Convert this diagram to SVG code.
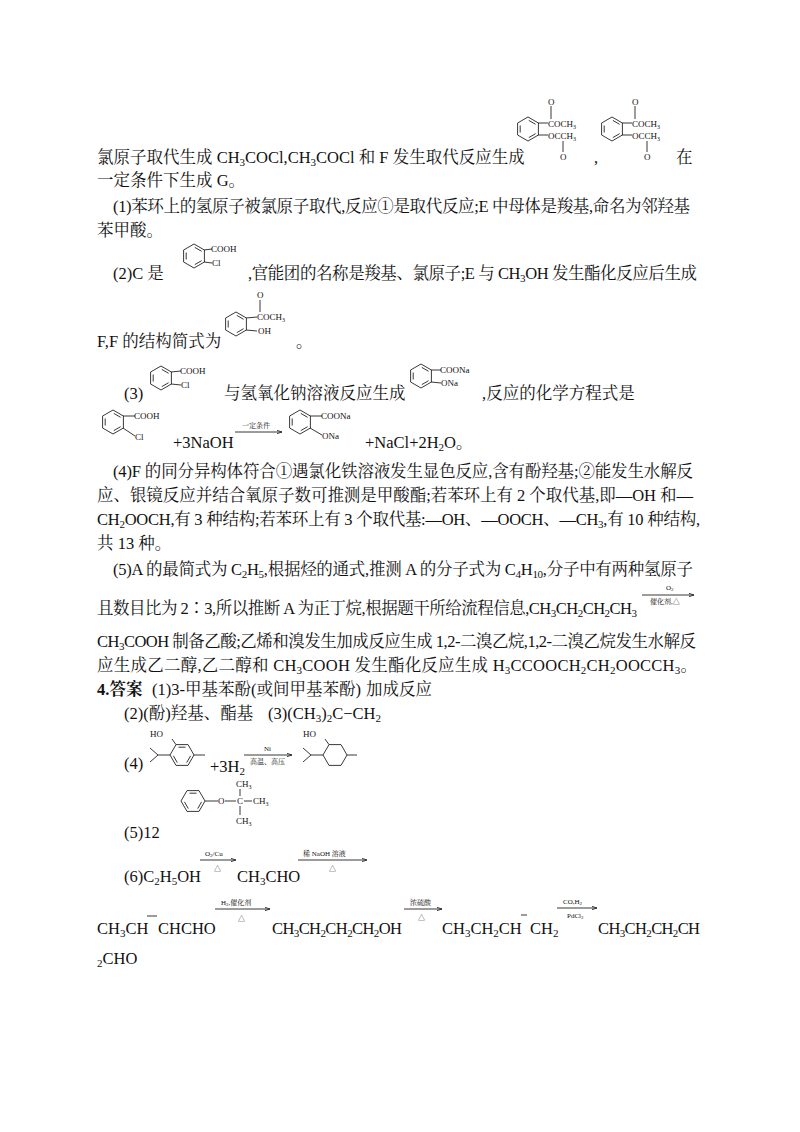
<svg xmlns="http://www.w3.org/2000/svg" width="800" height="1132" viewBox="0 0 800 1132">
<style>
text{font-family:"Liberation Serif","Noto Serif CJK SC","Noto Sans CJK SC",serif;fill:#111}
.t{font-size:16.5px}
.s{font-size:9px}
.m{font-size:7px}
line,path,polyline{stroke:#222;stroke-width:0.9;fill:none}
</style>
<defs>
<marker id="ah" markerWidth="6" markerHeight="4" refX="6" refY="2" orient="auto"><path d="M0,0L6,2L0,4z" fill="#222" stroke="none"/></marker>
<g id="bz"><path d="M0,-12L10.4,-6L10.4,6L0,12L-10.4,6L-10.4,-6Z"/><path d="M-7.8,-3.5L-7.8,3.5M0.8,-8.6L7.6,-4.7M0.8,8.6L7.6,4.7"/></g>
<g id="bzf"><path d="M-12,0L-6,-10.4L6,-10.4L12,0L6,10.4L-6,10.4Z"/><path d="M-3.5,-7.8L3.5,-7.8M-8.6,0.8L-4.7,7.6M8.6,0.8L4.7,7.6"/></g>
<g id="cyf"><path d="M-12,0L-6,-10.4L6,-10.4L12,0L6,10.4L-6,10.4Z"/></g>
</defs>
<rect width="800" height="1132" fill="#fff"/>

<g id="text">
<text class="t" x="97" y="163">氯原子取代生成 CH<tspan font-size="11" dy="3">3</tspan><tspan dy="-3">COCl,CH</tspan><tspan font-size="11" dy="3">3</tspan><tspan dy="-3">COCl 和 F 发生取代反应生成</tspan></text>
<text class="t" x="594" y="163">,</text>
<text class="t" x="676" y="163">在</text>
<text class="t" x="97" y="186">一定条件下生成 G。</text>
<text class="t" x="113" y="212" textLength="577" lengthAdjust="spacing">(1)苯环上的氢原子被氯原子取代,反应①是取代反应;E 中母体是羧基,命名为邻羟基</text>
<text class="t" x="97" y="236">苯甲酸。</text>
<text class="t" x="113" y="279">(2)C 是</text>
<text class="t" x="248" y="279" textLength="449" lengthAdjust="spacing">,官能团的名称是羧基、氯原子;E 与 CH<tspan font-size="11" dy="3">3</tspan><tspan dy="-3">OH 发生酯化反应后生成</tspan></text>
<text class="t" x="97" y="347">F,F 的结构简式为</text>
<text class="t" x="296" y="347">。</text>
<text class="t" x="124" y="399">(3)</text>
<text class="t" x="224" y="399">与氢氧化钠溶液反应生成</text>
<text class="t" x="482" y="399">,反应的化学方程式是</text>
<text class="t" x="173" y="448">+3NaOH</text>
<text class="t" x="365" y="448">+NaCl+2H<tspan font-size="11" dy="3">2</tspan><tspan dy="-3">O。</tspan></text>
<text class="t" x="113" y="477" textLength="580" lengthAdjust="spacing">(4)F 的同分异构体符合①遇氯化铁溶液发生显色反应,含有酚羟基;②能发生水解反</text>
<text class="t" x="97" y="501" textLength="596" lengthAdjust="spacing">应、银镜反应并结合氧原子数可推测是甲酸酯;若苯环上有 2 个取代基,即—OH 和—</text>
<text class="t" x="97" y="525" textLength="603" lengthAdjust="spacing">CH<tspan font-size="11" dy="3">2</tspan><tspan dy="-3">OOCH,有 3 种结构;若苯环上有 3 个取代基:—OH、—OOCH、—CH</tspan><tspan font-size="11" dy="3">3</tspan><tspan dy="-3">,有 10 种结构,</tspan></text>
<text class="t" x="97" y="549">共 13 种。</text>
<text class="t" x="113" y="575" textLength="580" lengthAdjust="spacing">(5)A 的最简式为 C<tspan font-size="11" dy="3">2</tspan><tspan dy="-3">H</tspan><tspan font-size="11" dy="3">5</tspan><tspan dy="-3">,根据烃的通式,推测 A 的分子式为 C</tspan><tspan font-size="11" dy="3">4</tspan><tspan dy="-3">H</tspan><tspan font-size="11" dy="3">10</tspan><tspan dy="-3">,分子中有两种氢原子</tspan></text>
<text class="t" x="97" y="614" textLength="540" lengthAdjust="spacing">且数目比为 2∶3,所以推断 A 为正丁烷,根据题干所给流程信息,CH<tspan font-size="11" dy="3">3</tspan><tspan dy="-3">CH</tspan><tspan font-size="11" dy="3">2</tspan><tspan dy="-3">CH</tspan><tspan font-size="11" dy="3">2</tspan><tspan dy="-3">CH</tspan><tspan font-size="11" dy="3">3</tspan></text>
<text class="t" x="97" y="647" textLength="599" lengthAdjust="spacing">CH<tspan font-size="11" dy="3">3</tspan><tspan dy="-3">COOH 制备乙酸;乙烯和溴发生加成反应生成 1,2-二溴乙烷,1,2-二溴乙烷发生水解反</tspan></text>
<text class="t" x="97" y="671" textLength="600" lengthAdjust="spacing">应生成乙二醇,乙二醇和 CH<tspan font-size="11" dy="3">3</tspan><tspan dy="-3">COOH 发生酯化反应生成 H</tspan><tspan font-size="11" dy="3">3</tspan><tspan dy="-3">CCOOCH</tspan><tspan font-size="11" dy="3">2</tspan><tspan dy="-3">CH</tspan><tspan font-size="11" dy="3">2</tspan><tspan dy="-3">OOCCH</tspan><tspan font-size="11" dy="3">3</tspan><tspan dy="-3">。</tspan></text>
<text class="t" x="97" y="695"><tspan font-weight="bold">4.答案</tspan><tspan x="152">(1)3-甲基苯酚(或间甲基苯酚)</tspan><tspan x="366">加成反应</tspan></text>
<text class="t" x="124" y="719">(2)(酚)羟基、酯基<tspan x="268">(3)(CH</tspan><tspan font-size="11" dy="3">3</tspan><tspan dy="-3">)</tspan><tspan font-size="11" dy="3">2</tspan><tspan dy="-3">C−CH</tspan><tspan font-size="11" dy="3">2</tspan></text>
<text class="t" x="124" y="769">(4)</text>
<text class="t" x="210" y="772">+3H<tspan font-size="11" dy="3">2</tspan></text>
<text class="t" x="124" y="838">(5)12</text>
<text class="t" x="124" y="882">(6)C<tspan font-size="11" dy="3">2</tspan><tspan dy="-3">H</tspan><tspan font-size="11" dy="3">5</tspan><tspan dy="-3">OH</tspan></text>
<text class="t" x="237" y="882">CH<tspan font-size="11" dy="3">3</tspan><tspan dy="-3">CHO</tspan></text>
<text class="t" x="97" y="934">CH<tspan font-size="11" dy="3">3</tspan><tspan dy="-3">CH</tspan></text>
<text class="t" x="158" y="934">CHCHO</text>
<text class="t" x="272" y="934" textLength="130" lengthAdjust="spacing">CH<tspan font-size="11" dy="3">3</tspan><tspan dy="-3">CH</tspan><tspan font-size="11" dy="3">2</tspan><tspan dy="-3">CH</tspan><tspan font-size="11" dy="3">2</tspan><tspan dy="-3">CH</tspan><tspan font-size="11" dy="3">2</tspan><tspan dy="-3">OH</tspan></text>
<text class="t" x="442" y="934">CH<tspan font-size="11" dy="3">3</tspan><tspan dy="-3">CH</tspan><tspan font-size="11" dy="3">2</tspan><tspan dy="-3">CH</tspan></text>
<text class="t" x="530" y="934">CH<tspan font-size="11" dy="3">2</tspan></text>
<text class="t" x="598" y="934" textLength="102" lengthAdjust="spacing">CH<tspan font-size="11" dy="3">3</tspan><tspan dy="-3">CH</tspan><tspan font-size="11" dy="3">2</tspan><tspan dy="-3">CH</tspan><tspan font-size="11" dy="3">2</tspan><tspan dy="-3">CH</tspan></text>
<text class="t" x="97" y="964"><tspan font-size="11" dy="3">2</tspan><tspan dy="-3">CHO</tspan></text>
</g>

<g id="structures">
<g id="s1"><use href="#bz" x="528" y="129"/><line x1="538" y1="123" x2="548" y2="123"/><line x1="538" y1="135" x2="548" y2="135"/><line x1="551" y1="106" x2="551" y2="119"/>
<text class="s" x="548" y="105">O</text><text class="s" x="548" y="127">COCH<tspan font-size="6" dy="2">3</tspan></text><text class="s" x="548" y="139">OCCH<tspan font-size="6" dy="2">3</tspan></text><line x1="563" y1="141" x2="563" y2="152"/><text class="s" x="560" y="160">O</text></g>
<g id="s2"><use href="#bz" x="612" y="129"/><line x1="622" y1="123" x2="632" y2="123"/><line x1="622" y1="135" x2="632" y2="135"/><line x1="635" y1="106" x2="635" y2="119"/>
<text class="s" x="632" y="105">O</text><text class="s" x="632" y="127">COCH<tspan font-size="6" dy="2">3</tspan></text><text class="s" x="632" y="139">OCCH<tspan font-size="6" dy="2">3</tspan></text><line x1="647" y1="141" x2="647" y2="152"/><text class="s" x="644" y="160">O</text></g>
<g id="sC"><use href="#bz" x="194" y="256"/><line x1="204" y1="250" x2="212" y2="249"/><line x1="204" y1="262" x2="212" y2="263"/><text class="s" x="211" y="252">COOH</text><text class="s" x="212" y="266">Cl</text></g>
<g id="sF"><use href="#bz" x="236" y="324"/><line x1="246" y1="318" x2="257" y2="317"/><line x1="246" y1="330" x2="257" y2="331"/><line x1="260" y1="300" x2="260" y2="312"/>
<text class="s" x="257" y="298">O</text><text class="s" x="257" y="320">COCH<tspan font-size="6" dy="2">3</tspan></text><text class="s" x="258" y="334">OH</text></g>
<g id="s3a"><use href="#bz" x="161" y="378"/><line x1="171" y1="372" x2="181" y2="371"/><line x1="171" y1="384" x2="181" y2="385"/><text class="s" x="180" y="374">COOH</text><text class="s" x="181" y="388">Cl</text></g>
<g id="s3b"><use href="#bz" x="421" y="376"/><line x1="431" y1="370" x2="441" y2="370"/><line x1="431" y1="382" x2="441" y2="383"/><text class="s" x="440" y="373">COONa</text><text class="s" x="441" y="386">ONa</text></g>
<g id="s4a"><use href="#bz" x="113" y="422"/><line x1="123" y1="416" x2="135" y2="416"/><line x1="123" y1="428" x2="135" y2="436"/><text class="s" x="134" y="419">COOH</text><text class="s" x="135" y="440">Cl</text></g>
<g id="s4b"><use href="#bz" x="300" y="422"/><line x1="310" y1="416" x2="322" y2="416"/><line x1="310" y1="428" x2="322" y2="435"/><text class="s" x="321" y="419">COONa</text><text class="s" x="322" y="439">ONa</text></g>
<g id="s5a"><use href="#bzf" x="182" y="755"/><polyline points="150,748 158,755 150,762"/><line x1="158" y1="755" x2="170" y2="755"/><line x1="194" y1="755" x2="205" y2="755"/><line x1="176" y1="744.6" x2="172" y2="739"/><text class="s" x="150" y="737">HO</text></g>
<g id="s5b"><use href="#cyf" x="335" y="755"/><polyline points="303,748 311,755 303,762"/><line x1="311" y1="755" x2="323" y2="755"/><line x1="347" y1="755" x2="357" y2="755"/><line x1="329" y1="744.6" x2="325" y2="739"/><text class="s" x="303" y="737">HO</text></g>
<g id="s6"><use href="#bzf" x="193" y="801"/><line x1="205" y1="801" x2="218" y2="801"/><text class="s" x="218" y="804">O</text><line x1="225" y1="801" x2="236" y2="801"/><text class="s" x="237" y="804">C</text><line x1="240" y1="789" x2="240" y2="796"/><line x1="240" y1="806" x2="240" y2="815"/><line x1="244" y1="801" x2="252" y2="801"/><text class="s" x="236" y="787">CH<tspan font-size="6" dy="2">3</tspan></text><text class="s" x="253" y="804">CH<tspan font-size="6" dy="2">3</tspan></text><text class="s" x="236" y="824">CH<tspan font-size="6" dy="2">3</tspan></text></g>
</g>

<g id="connectors">
<line x1="235" y1="432" x2="282" y2="432" marker-end="url(#ah)"/><text class="m" x="242" y="428">一定条件</text>
<line x1="642" y1="595" x2="694" y2="595" marker-end="url(#ah)"/><text class="m" x="666" y="590">O<tspan font-size="5" dy="1">2</tspan></text><text class="m" x="650" y="604">催化剂,△</text>
<line x1="244" y1="755" x2="292" y2="755" marker-end="url(#ah)"/><text class="m" x="264" y="751">Ni</text><text class="m" x="250" y="764">高温、高压</text>
<line x1="200" y1="860" x2="236" y2="860" marker-end="url(#ah)"/><text class="m" x="205" y="856">O<tspan font-size="5" dy="1">2</tspan><tspan dy="-1">/Cu</tspan></text><text class="m" x="214" y="871">△</text>
<line x1="298" y1="860" x2="367" y2="860" marker-end="url(#ah)"/><text class="m" x="303" y="856">稀 NaOH 溶液</text><text class="m" x="329" y="871">△</text>
<line x1="147" y1="916" x2="157" y2="916"/>
<line x1="215" y1="909" x2="270" y2="909" marker-end="url(#ah)"/><text class="m" x="221" y="905">H<tspan font-size="5" dy="1">2</tspan><tspan dy="-1">,催化剂</tspan></text><text class="m" x="238" y="921">△</text>
<line x1="404" y1="909" x2="442" y2="909" marker-end="url(#ah)"/><text class="m" x="410" y="905">浓硫酸</text><text class="m" x="418" y="920">△</text>
<line x1="521" y1="915" x2="527" y2="915"/>
<line x1="557" y1="908" x2="597" y2="908" marker-end="url(#ah)"/><text class="m" x="563" y="904">CO,H<tspan font-size="5" dy="1">2</tspan></text><text class="m" x="567" y="918">PdCl<tspan font-size="5" dy="1">2</tspan></text>
</g>
</svg>
